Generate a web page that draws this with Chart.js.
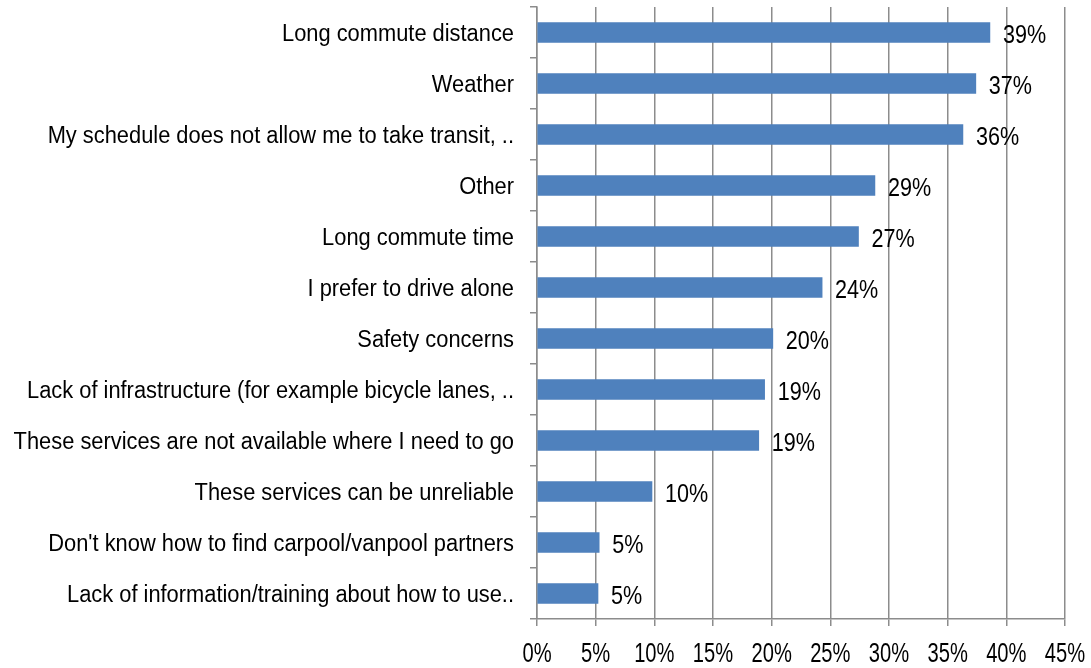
<!DOCTYPE html>
<html>
<head>
<meta charset="utf-8">
<script src="https://cdn.jsdelivr.net/npm/chart.js@4/dist/chart.umd.min.js"></script>
<style>
  html, body { margin: 0; padding: 0; background: #fff; }
  #wrap { width: 1091px; height: 668px; }
</style>
</head>
<body>
<div id="wrap"><canvas id="barriers" width="1091" height="668"></canvas></div>
<script>
const reasons = [
  "Long commute distance",
  "Weather",
  "My schedule does not allow me to take transit, ..",
  "Other",
  "Long commute time",
  "I prefer to drive alone",
  "Safety concerns",
  "Lack of infrastructure (for example bicycle lanes, ..",
  "These services are not available where I need to go",
  "These services can be unreliable",
  "Don't know how to find carpool/vanpool partners",
  "Lack of information/training about how to use.."
];
const shares = [38.6, 37.4, 36.3, 28.8, 27.4, 24.3, 20.1, 19.4, 18.9, 9.8, 5.3, 5.2];
const pctTicks = [0, 5, 10, 15, 20, 25, 30, 35, 40, 45];

const FONT = "'Liberation Sans', Arial, sans-serif";
const GRID = "#8c8c8c";

// condensed text: draw with a horizontal squeeze, y is the baseline
function narrowText(ctx, text, x, y, size, sx, align) {
  ctx.save();
  ctx.font = size + "px " + FONT;
  ctx.fillStyle = "#000";
  ctx.textAlign = align;
  ctx.textBaseline = "alphabetic";
  ctx.translate(x, y);
  ctx.scale(sx, 1);
  ctx.fillText(text, 0, 0);
  ctx.restore();
}

// axis labels and percent labels at the end of each bar
const narrowLabels = {
  id: "narrowLabels",
  afterDraw(chart) {
    const ctx = chart.ctx;
    const xs = chart.scales.x;
    const ys = chart.scales.y;

    reasons.forEach((r, i) => {
      const y = ys.getPixelForTick(i);
      narrowText(ctx, r, ys.right - 23, y + 8, 23, 0.95, "right");
    });

    pctTicks.forEach((v) => {
      narrowText(ctx, v + "%", xs.getPixelForValue(v), xs.top + 43, 28, 0.72, "center");
    });

    chart.getDatasetMeta(0).data.forEach((bar, i) => {
      narrowText(ctx, Math.round(shares[i]) + "%", bar.x + 13, bar.y + 10, 26, 0.83, "left");
    });
  }
};

new Chart(document.getElementById("barriers"), {
  type: "bar",
  data: {
    labels: reasons,
    datasets: [{
      data: shares,
      backgroundColor: "#4f81bd",
      borderWidth: 0,
      barThickness: 20
    }]
  },
  options: {
    indexAxis: "y",
    responsive: false,
    animation: false,
    layout: { padding: { top: 7, right: 26, left: 0, bottom: 0 } },
    plugins: {
      legend: { display: false },
      tooltip: { enabled: false }
    },
    scales: {
      x: {
        min: 0,
        max: 45,
        afterBuildTicks: (scale) => {
          scale.ticks = pctTicks.map(v => ({ value: v }));
        },
        afterFit: (scale) => {
          scale.height = 49;
          scale.paddingLeft = 0;
          scale.paddingRight = 0;
        },
        grid: { color: GRID, lineWidth: 1.5, tickLength: 7 },
        border: { display: true, color: GRID, width: 1.5 },
        ticks: { display: false }
      },
      y: {
        afterFit: (scale) => {
          scale.width = 537;
          scale.paddingTop = 0;
          scale.paddingBottom = 0;
        },
        grid: { drawOnChartArea: false, color: GRID, lineWidth: 1.5, tickLength: 7 },
        border: { display: true, color: GRID, width: 1.5 },
        ticks: { display: false, autoSkip: false }
      }
    }
  },
  plugins: [narrowLabels]
});
</script>
</body>
</html>
